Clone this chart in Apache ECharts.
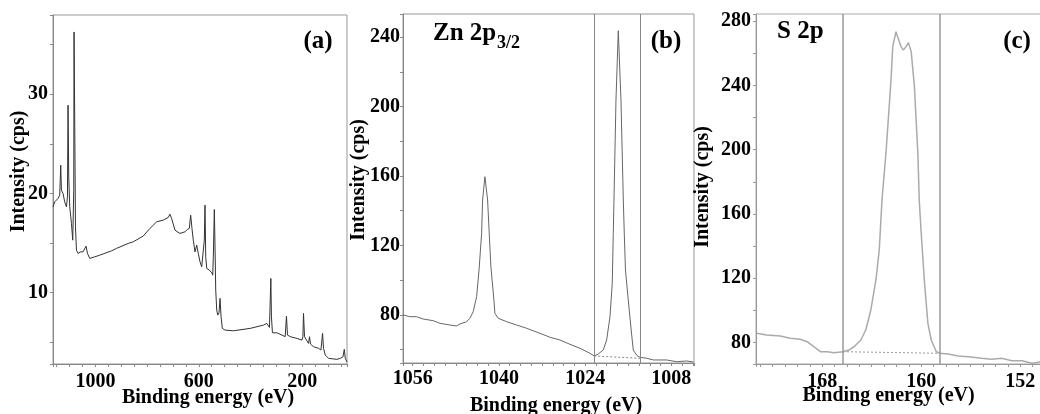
<!DOCTYPE html>
<html><head><meta charset="utf-8">
<script src="https://cdn.jsdelivr.net/npm/echarts@6/dist/echarts.min.js"></script>
<style>html,body{margin:0;padding:0;background:#fff}#c{width:1040px;height:414px}</style>
</head><body><div id="c"></div>
<script>
// ---- (a) survey spectrum ----
const surveyEnergy = [1164.2,1157.6,1144.8,1138.2,1134.3,1131.6,1125.4,1118.8,1112.2,1108.3,
1106.0,1103.3,1099.4,1092.8,1087.8,1083.9,1082.7,1080.0,1077.3,1073.4,
1067.2,1056.8,1047.9,1041.3,1036.2,1030.8,1021.9,1002.5,983.1,937.7,
918.3,873.4,854.0,815.2,789.2,763.2,737.7,718.3,711.7,705.1,
692.3,672.9,666.3,653.5,644.6,636.8,631.4,626.4,621.3,614.7,
608.1,601.9,595.3,588.8,582.6,578.7,576.0,573.2,569.4,559.3,
550.0,546.1,543.8,539.9,537.2,534.5,530.6,526.7,521.7,517.8,
513.9,508.9,498.4,466.2,401.5,349.9,336.7,326.6,321.2,318.9,
315.0,297.9,278.5,265.8,260.7,256.8,246.4,220.4,201.0,197.1,
194.8,190.9,181.6,175.4,171.5,167.7,156.0,136.6,127.3,121.1,
117.3,110.6,97.9,65.3,52.5,42.0,37.0,33.1,26.5];
const surveyIntensity = [18.65,19.15,19.5,19.83,22.85,20.33,20.0,19.15,18.65,19.66,
28.9,21.67,18.65,16.98,15.29,20.33,36.29,26.71,16.63,14.28,
13.95,14.11,14.11,14.28,14.69,13.95,13.45,13.61,13.78,14.21,
14.46,14.96,15.12,15.70,16.47,17.14,17.31,17.58,17.91,17.48,
16.30,15.97,15.80,16.13,16.37,16.47,17.81,16.47,15.29,14.11,
14.79,13.95,13.11,12.60,12.67,15.29,18.82,13.61,12.44,12.27,
12.0,11.76,13.61,18.39,14.62,10.25,8.24,7.73,7.96,9.42,
7.56,6.39,6.22,6.15,6.39,6.72,6.90,6.49,11.43,7.56,
5.95,5.95,5.72,5.56,7.63,5.72,5.56,5.38,5.21,5.55,
7.90,5.55,5.14,4.88,5.55,4.81,4.54,4.38,4.21,5.89,
4.38,3.70,3.37,3.27,3.37,3.53,4.28,3.37,3.0];

// ---- (b) Zn 2p3/2 ----
const zn2pEnergy = [1057.77,1056.53,1055.28,1054.99,1054.06,1052.20,1050.96,1049.10,1047.86,1047.24,
1046.0,1045.39,1044.77,1044.14,1043.66,1043.21,1043.03,1042.60,1042.10,1041.80,
1041.49,1040.93,1040.75,1040.13,1038.57,1036.72,1034.86,1032.39,1030.53,1028.68,
1026.82,1024.96,1023.11,1022.31,1021.57,1020.64,1020.01,1019.39,1018.97,1018.78,
1018.65,1018.28,1017.85,1017.35,1016.92,1016.74,1016.52,1016.0,1015.40,1015.07,
1014.44,1013.82,1012.58,1011.35,1008.87,1007.01,1005.15,1003.93];
const zn2pIntensity = [79.86,78.89,78.89,79.46,77.56,76.58,75.08,74.10,73.53,74.68,
76.0,77.96,81.77,90.41,106.94,126.93,146.12,159.54,146.12,126.93,
107.69,88.51,80.84,77.96,76.0,74.10,72.20,69.32,67.02,65.46,
62.98,60.68,57.80,56.24,57.40,59.70,65.46,78.89,98.13,126.93,
146.12,203.73,243.65,203.73,146.12,126.93,105.79,88.51,69.49,59.70,
56.65,55.49,54.92,53.94,53.94,52.96,53.36,52.79];
const zn2pBackgroundEnergy = [1022.31, 1013.82];
const zn2pBackgroundIntensity = [56.24, 54.92];
const zn2pRegionEnergy = [1022.31, 1013.82];

// ---- (c) S 2p ----
const s2pEnergy = [173.29,172.48,171.39,170.58,169.77,169.22,168.68,168.14,167.59,167.06,
166.32,165.84,165.43,164.88,164.48,164.07,163.66,163.39,163.17,162.85,
162.44,162.30,162.04,161.90,161.63,161.44,161.22,161.03,160.81,160.55,
160.27,160.16,160.0,159.73,159.46,159.19,158.78,158.51,157.83,157.01,
156.20,155.12,154.31,153.49,152.68,151.86,151.05,150.24];
const s2pIntensity = [85.71,84.65,84.03,82.59,81.97,80.48,77.37,74.26,74.26,73.63,
74.26,75.31,77.37,81.54,87.76,100.21,118.88,137.55,168.67,197.74,
243.36,264.09,273.42,272.43,264.09,262.03,264.09,266.58,260.97,239.19,
197.74,168.67,147.95,116.83,91.93,81.54,74.26,73.26,72.82,71.58,
71.14,70.15,69.52,70.15,68.65,68.65,67.03,68.03];
const s2pBackgroundEnergy = [166.32, 158.51];
const s2pBackgroundIntensity = [74.26, 73.26];
const s2pRegionEnergy = [166.32, 158.51];

// ---- axes: ranges, tick steps, labels ----
const surveyXRange = [26.5, 1164.2], surveyYRange = [2.8, 38.0];
const zn2pXRange = [1003.8, 1057.8], zn2pYRange = [52.2, 253.3];
const s2pXRange = [150.24, 173.35], s2pYRange = [66.6, 284.4];
const surveyXStep = 50, surveyYStep = 5;
const zn2pXStep = 2, zn2pYStep = 20;
const s2pXStep = 1, s2pYStep = 20;
const surveyXLabels = [1000, 600, 200], surveyYLabels = [10, 20, 30];
const zn2pXLabels = [1056, 1040, 1024, 1008], zn2pYLabels = [80, 120, 160, 200, 240];
const s2pXLabels = [168, 160, 152], s2pYLabels = [80, 120, 160, 200, 240, 280];
const panelLabels = ['(a)', '(b)', '(c)'];
const xTitle = 'Binding energy (eV)', yTitle = 'Intensity (cps)';
const zn2pTitle = ['Zn 2p', '3/2'], s2pTitle = 'S 2p';

const FONT = '"Liberation Serif", "Times New Roman", serif';
const pairs = (xs, ys) => xs.map((x, i) => [x, ys[i]]);
const pick = labels => v => { const m = labels.find(l => Math.abs(l - v) < 1e-6); return m === undefined ? '' : String(m); };

function xAx(grid, range, step, labels, o) {
  return {
    type: 'value', gridIndex: grid, inverse: true, min: range[0], max: range[1],
    minInterval: step, maxInterval: step, splitLine: {show: false},
    axisLine: {show: true, lineStyle: {color: o.color, width: 1}},
    axisTick: {show: true, inside: false, length: 3, lineStyle: {color: o.color}},
    axisLabel: {formatter: pick(labels), fontFamily: FONT, fontWeight: 'bold', fontSize: 20, color: '#000', margin: o.margin},
    name: xTitle, nameLocation: 'middle', nameGap: o.gap, nameMoveOverlap: false,
    nameTextStyle: {fontFamily: FONT, fontWeight: 'bold', fontSize: 20, color: '#000', padding: o.pad}
  };
}
function yAx(grid, range, step, labels, o) {
  return {
    type: 'value', gridIndex: grid, min: range[0], max: range[1],
    minInterval: step, maxInterval: step, splitLine: {show: false},
    axisLine: {show: true, lineStyle: {color: o.color, width: 1}},
    axisTick: {show: true, inside: false, length: 3, lineStyle: {color: o.color}},
    axisLabel: {formatter: pick(labels), fontFamily: FONT, fontWeight: 'bold', fontSize: 20, color: '#000', margin: o.margin},
    name: yTitle, nameLocation: 'middle', nameGap: o.gap, nameRotate: 90, nameMoveOverlap: false,
    nameTextStyle: {fontFamily: FONT, fontWeight: 'bold', fontSize: 20, color: '#000', padding: o.pad}
  };
}
function regionLines(vals, color, width) {
  return {silent: true, symbol: ['none', 'none'], label: {show: false},
    lineStyle: {color: color, width: width, type: 'solid'},
    data: vals.map(v => ({xAxis: v}))};
}

const gridBase = {show: true, borderWidth: 1, backgroundColor: 'transparent', containLabel: false, outerBoundsMode: 'none'};
const chart = echarts.init(document.getElementById('c'), null, {renderer: 'canvas'});
chart.setOption({
  animation: false,
  backgroundColor: '#fff',
  grid: [
    Object.assign({left: 53, top: 15, width: 294, height: 349, borderColor: '#999'}, gridBase),
    Object.assign({left: 403, top: 14, width: 291, height: 349, borderColor: '#999'}, gridBase),
    Object.assign({left: 756, top: 14, width: 286, height: 350, borderColor: '#aaa'}, gridBase)
  ],
  xAxis: [
    xAx(0, surveyXRange, surveyXStep, surveyXLabels, {color: '#888', margin: 8, gap: 24, pad: [0, 0, 0, 16]}),
    xAx(1, zn2pXRange, zn2pXStep, zn2pXLabels, {color: '#888', margin: 6, gap: 33, pad: [0, 0, 0, 15]}),
    xAx(2, s2pXRange, s2pXStep, s2pXLabels, {color: '#999', margin: 8, gap: 22, pad: [0, 21, 0, 0]})
  ],
  yAxis: [
    yAx(0, surveyYRange, surveyYStep, surveyYLabels, {color: '#888', margin: 5, gap: 24, pad: [0, 0, 0, 36]}),
    yAx(1, zn2pYRange, zn2pYStep, zn2pYLabels, {color: '#888', margin: 3, gap: 34, pad: [0, 0, 0, 17]}),
    yAx(2, s2pYRange, s2pYStep, s2pYLabels, {color: '#999', margin: 5, gap: 43, pad: [0, 0, 0, 4]})
  ],
  series: [
    {type: 'line', xAxisIndex: 0, yAxisIndex: 0, data: pairs(surveyEnergy, surveyIntensity), showSymbol: false,
      lineStyle: {color: '#333', width: 1}},
    {type: 'line', xAxisIndex: 1, yAxisIndex: 1, data: pairs(zn2pEnergy, zn2pIntensity), showSymbol: false,
      lineStyle: {color: '#666', width: 1}, markLine: regionLines(zn2pRegionEnergy, '#888', 1)},
    {type: 'line', xAxisIndex: 1, yAxisIndex: 1, data: pairs(zn2pBackgroundEnergy, zn2pBackgroundIntensity), showSymbol: false,
      lineStyle: {color: '#888', width: 1, type: [2, 2]}},
    {type: 'line', xAxisIndex: 2, yAxisIndex: 2, data: pairs(s2pEnergy, s2pIntensity), showSymbol: false,
      lineStyle: {color: '#aaa', width: 1.5}, markLine: regionLines(s2pRegionEnergy, '#999', 1.5)},
    {type: 'line', xAxisIndex: 2, yAxisIndex: 2, data: pairs(s2pBackgroundEnergy, s2pBackgroundIntensity), showSymbol: false,
      lineStyle: {color: '#999', width: 1, type: [2, 2]}}
  ],
  graphic: [
    {type: 'text', x: 318, y: 42, style: {text: panelLabels[0], font: 'bold 25px ' + FONT, fill: '#000', align: 'center', verticalAlign: 'middle'}},
    {type: 'text', x: 666, y: 42, style: {text: panelLabels[1], font: 'bold 25px ' + FONT, fill: '#000', align: 'center', verticalAlign: 'middle'}},
    {type: 'text', x: 1017, y: 42, style: {text: panelLabels[2], font: 'bold 25px ' + FONT, fill: '#000', align: 'center', verticalAlign: 'middle'}},
    {type: 'text', x: 433, y: 34, style: {text: zn2pTitle[0], font: 'bold 25px ' + FONT, fill: '#000', align: 'left', verticalAlign: 'middle'}},
    {type: 'text', x: 497, y: 43, style: {text: zn2pTitle[1], font: 'bold 18px ' + FONT, fill: '#000', align: 'left', verticalAlign: 'middle'}},
    {type: 'text', x: 777, y: 32, style: {text: s2pTitle, font: 'bold 25px ' + FONT, fill: '#000', align: 'left', verticalAlign: 'middle'}}
  ]
});
</script></body></html>
